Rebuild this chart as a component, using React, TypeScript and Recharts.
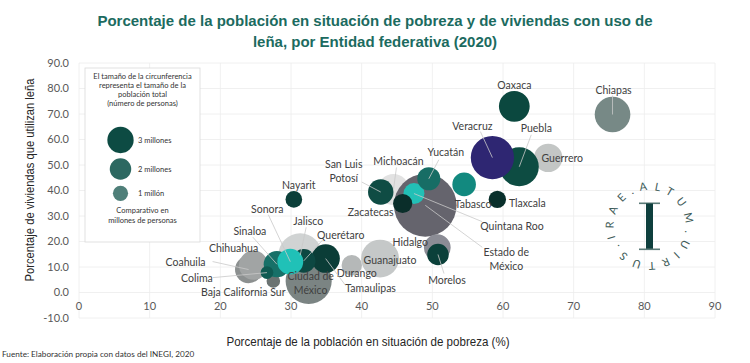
import { ScatterChart, Scatter, XAxis, YAxis, ZAxis, CartesianGrid, Cell } from 'recharts';

// Entidades en orden de dibujo (las que van encima, al final)
const estados = [
  'Michoacán', 'Estado de México', 'San Luis Potosí', 'Quintana Roo', 'Zacatecas', 'Yucatán',
  'Tabasco', 'Guerrero', 'Puebla', 'Veracruz', 'Oaxaca', 'Chiapas', 'Tlaxcala', 'Hidalgo',
  'Morelos', 'Guanajuato', 'Durango', 'Jalisco', 'Ciudad de México', 'Tamaulipas', 'Querétaro',
  'Coahuila', 'Chihuahua', 'Baja California Sur', 'Sinaloa', 'Sonora', 'Colima', 'Nayarit',
];
// % de la población en situación de pobreza
const pobreza = [
  44.5, 49.0, 42.7, 47.4, 45.8, 49.5, 54.5, 66.4, 62.3, 58.5, 61.6, 75.5, 59.2, 50.7,
  50.8, 42.6, 38.6, 31.3, 32.5, 34.9, 31.8, 24.0, 24.7, 27.5, 28.0, 29.9, 26.6, 30.4,
];
// % de viviendas que utilizan leña
const lena = [
  40.4, 34.2, 39.4, 38.8, 34.9, 44.6, 42.4, 52.8, 49.3, 52.9, 73.0, 69.8, 36.5, 17.6,
  14.9, 13.3, 10.7, 14.6, 4.5, 13.3, 12.4, 9.0, 10.7, 4.5, 11.1, 12.1, 7.8, 36.5,
];
// población total (millones de personas)
const poblacion = [
  4.2, 17.0, 2.8, 1.9, 1.6, 2.3, 2.4, 3.5, 6.6, 8.1, 4.1, 5.5, 1.3, 3.1,
  2.0, 6.2, 1.8, 8.3, 9.2, 3.5, 2.4, 3.2, 3.7, 0.8, 3.0, 2.9, 0.7, 1.2,
];
const colores = [
  '#e2e2e2', '#65646d', '#0f4c44', '#22c0b6', '#0a2e2a', '#176d65', '#12897f', '#c3c6c5',
  '#0d4c42', '#2e2672', '#0b483f', '#778986', '#082f2b', '#8b8c95', '#0b403a', '#c5c8c8',
  '#b5b8b8', '#d0d3d3', '#7b8483', '#0b3d37', '#0d4842', '#8c9090', '#a1a4a4', '#6b7372',
  '#177068', '#20c1b7', '#0f5a52', '#0b3f39',
];

const ejeX = [0, 10, 20, 30, 40, 50, 60, 70, 80, 90];
const ejeY = [-10, 0, 10, 20, 30, 40, 50, 60, 70, 80, 90];

const leyenda = [3, 2, 1];
const leyendaTexto = ['3 millones', '2 millones', '1 millón'];

const datos = estados.map((nombre, i) => ({ nombre, x: pobreza[i], y: lena[i], z: poblacion[i] }));

// posición de las etiquetas respecto al centro de cada burbuja (px), y arranque de la línea guía
const etiquetas: Record<string, { t: string[]; d: [number, number]; l?: [number, number] }> = {
  Oaxaca: { t: ['Oaxaca'], d: [0, -21] },
  Chiapas: { t: ['Chiapas'], d: [1, -25], l: [0, -19] },
  Veracruz: { t: ['Veracruz'], d: [-20, -32], l: [-12, -26] },
  Puebla: { t: ['Puebla'], d: [17, -39], l: [12, -32] },
  Guerrero: { t: ['Guerrero'], d: [14, 0] },
  Tlaxcala: { t: ['Tlaxcala'], d: [30, 4] },
  Tabasco: { t: ['Tabasco'], d: [9, 20] },
  'Quintana Roo': { t: ['Quintana Roo'], d: [98, 32], l: [68, 28] },
  'Estado de México': { t: ['Estado de', 'México'], d: [81, 47], l: [57, 42] },
  'Yucatán': { t: ['Yucatán'], d: [17, -27], l: [10, -19] },
  'Michoacán': { t: ['Michoacán'], d: [5, -28], l: [3, -22] },
  'San Luis Potosí': { t: ['San Luis', 'Potosí'], d: [-37, -28], l: [-19, -10] },
  Zacatecas: { t: ['Zacatecas'], d: [-32, 8] },
  Hidalgo: { t: ['Hidalgo'], d: [-27, -6] },
  Morelos: { t: ['Morelos'], d: [9, 25], l: [6, 19] },
  Guanajuato: { t: ['Guanajuato'], d: [10, 1] },
  Durango: { t: ['Durango'], d: [5, 8] },
  Tamaulipas: { t: ['Tamaulipas'], d: [45, 29], l: [20, 27] },
  'Ciudad de México': { t: ['Ciudad de', 'México'], d: [2, -5] },
  'Querétaro': { t: ['Querétaro'], d: [37, -26], l: [19, -21] },
  Jalisco: { t: ['Jalisco'], d: [8, -34], l: [6, -28] },
  Sonora: { t: ['Sonora'], d: [-23, -53], l: [-22, -47] },
  Nayarit: { t: ['Nayarit'], d: [5, -14] },
  Sinaloa: { t: ['Sinaloa'], d: [-27, -33], l: [-24, -27] },
  Chihuahua: { t: ['Chihuahua'], d: [-20, -17] },
  Coahuila: { t: ['Coahuila'], d: [-63, -8], l: [-36, -8] },
  Colima: { t: ['Colima'], d: [-70, 5], l: [-54, 5] },
  'Baja California Sur': { t: ['Baja California Sur'], d: [-30, 11] },
};

const FUENTE = 'Lato, "Open Sans", sans-serif';
const ARIAL = '"Liberation Sans", Arial, sans-serif';

function Etiqueta(props: any) {
  const { cx, cy, payload } = props;
  const e = etiquetas[payload.nombre];
  if (!e) return <g />;
  return (
    <g>
      {e.l && (
        <line x1={cx + e.l[0]} y1={cy + e.l[1]} x2={cx} y2={cy} stroke="#c9c9c9" strokeWidth={0.8} />
      )}
      {e.t.map((t, i) => (
        <text
          key={i}
          x={cx + e.d[0]}
          y={cy + e.d[1] + i * 13.5}
          textAnchor="middle"
          dominantBaseline="central"
          fontFamily={FUENTE}
          fontSize={10.5}
          fill="#404040"
        >
          {t}
        </text>
      ))}
    </g>
  );
}

function TickX(props: any) {
  const { x, y, payload } = props;
  return (
    <text x={x} y={y} dy={-21} textAnchor="middle" dominantBaseline="central" fontFamily={FUENTE} fontSize={11} fill="#595959">
      {payload.value}
    </text>
  );
}

function Logo() {
  const cx = 649.5;
  const cy = 226;
  const r = 36;
  const a0 = (-105 * Math.PI) / 180;
  const sx = cx + r * Math.cos(a0);
  const sy = cy + r * Math.sin(a0);
  const ex = cx + r * Math.cos(a0 - 0.001);
  const ey = cy + r * Math.sin(a0 - 0.001);
  const d = `M ${sx} ${sy} A ${r} ${r} 0 1 1 ${ex} ${ey}`;
  return (
    <g>
      <defs>
        <path id="circuloLogo" d={d} />
      </defs>
      <text fontFamily={FUENTE} fontSize={11} fill="#3f5d5a">
        <textPath href="#circuloLogo" textLength={2 * Math.PI * r * 0.97} lengthAdjust="spacing">
          ALTUM.UIRTUS.IRAE.
        </textPath>
      </text>
      <rect x={cx - 10.5} y={202.5} width={21} height={1.6} fill="#5a7a77" />
      <rect x={cx - 3.5} y={203.5} width={7} height={45.5} fill="#0e3f3d" />
      <rect x={cx - 10.5} y={248.5} width={21} height={1.6} fill="#5a7a77" />
    </g>
  );
}

function Leyenda() {
  const k = 7.6;
  const cys = [140, 169, 193.3];
  const colLeyenda = ['#0d4b43', '#2c6861', '#4f7f79'];
  const enc = ['El tamaño de la circunferencia', 'representa el tamaño de la', 'población total', '(número de personas)'];
  return (
    <g>
      <rect x={85} y={68} width={115} height={174} fill="#ffffff" stroke="#d9d9d9" strokeWidth={0.8} />
      {enc.map((t, i) => (
        <text key={t} x={142.5} y={76 + i * 9.3} textAnchor="middle" dominantBaseline="central" fontFamily={FUENTE} fontSize={7.5} fill="#333333">
          {t}
        </text>
      ))}
      {leyenda.map((n, i) => (
        <g key={n}>
          <circle cx={120.5} cy={cys[i]} r={k * Math.sqrt(n)} fill={colLeyenda[i]} />
          <text x={138} y={cys[i]} dominantBaseline="central" fontFamily={FUENTE} fontSize={7.5} fill="#333333">
            {leyendaTexto[i]}
          </text>
        </g>
      ))}
      <text x={142.5} y={210} textAnchor="middle" dominantBaseline="central" fontFamily={FUENTE} fontSize={7.5} fill="#333333">
        Comparativo en
      </text>
      <text x={142.5} y={220} textAnchor="middle" dominantBaseline="central" fontFamily={FUENTE} fontSize={7.5} fill="#333333">
        millones de personas
      </text>
    </g>
  );
}

export default function App() {
  return (
    <div style={{ position: 'absolute', left: 0, top: 0, width: 750, height: 363, background: '#ffffff' }}>
      <ScatterChart width={750} height={363} margin={{ top: 63, right: 35, bottom: 15, left: 19 }}>
        <CartesianGrid stroke="#ececec" strokeWidth={0.8} />
        <XAxis
          type="number"
          dataKey="x"
          domain={[0, 90]}
          ticks={ejeX}
          axisLine={false}
          tickLine={false}
          height={30}
          tick={<TickX />}
          interval={0}
        />
        <YAxis
          type="number"
          dataKey="y"
          domain={[-10, 90]}
          ticks={ejeY}
          axisLine={false}
          tickLine={false}
          width={60}
          tickMargin={4}
          interval={0}
          tickFormatter={(v: number) => v.toFixed(1)}
          tick={{ fontSize: 11, fill: '#595959', fontFamily: FUENTE }}
        />
        <ZAxis type="number" dataKey="z" domain={[0, 20]} range={[0, 3630]} />
        <Scatter data={datos} isAnimationActive={false}>
          {datos.map((d, i) => (
            <Cell key={d.nombre} fill={colores[i]} />
          ))}
        </Scatter>
        <Scatter data={datos} isAnimationActive={false} shape={(p: any) => <Etiqueta {...p} />} />
      </ScatterChart>
      <svg width={750} height={363} style={{ position: 'absolute', left: 0, top: 0, pointerEvents: 'none' }}>
        <text x={375} y={20} textAnchor="middle" dominantBaseline="central" fontFamily={ARIAL} fontWeight="bold" fontSize={15} fill="#1c6b5f">
          Porcentaje de la población en situación de pobreza y de viviendas con uso de
        </text>
        <text x={375} y={41} textAnchor="middle" dominantBaseline="central" fontFamily={ARIAL} fontWeight="bold" fontSize={15} fill="#1c6b5f">
          leña, por Entidad federativa (2020)
        </text>
        <text
          transform="translate(29,180) rotate(-90)"
          textAnchor="middle"
          dominantBaseline="central"
          fontFamily={ARIAL}
          fontSize={13.5}
          fill="#262626"
          textLength={203}
          lengthAdjust="spacingAndGlyphs"
        >
          Porcentaje de viviendas que utilizan leña
        </text>
        <text
          x={368}
          y={341}
          textAnchor="middle"
          dominantBaseline="central"
          fontFamily={ARIAL}
          fontSize={13.5}
          fill="#262626"
          textLength={283}
          lengthAdjust="spacingAndGlyphs"
        >
          Porcentaje de la población en situación de pobreza (%)
        </text>
        <text x={2} y={354} dominantBaseline="central" fontFamily={FUENTE} fontSize={8.2} fill="#333333">
          Fuente: Elaboración propia con datos del INEGI, 2020
        </text>
        <Leyenda />
        <Logo />
      </svg>
    </div>
  );
}
